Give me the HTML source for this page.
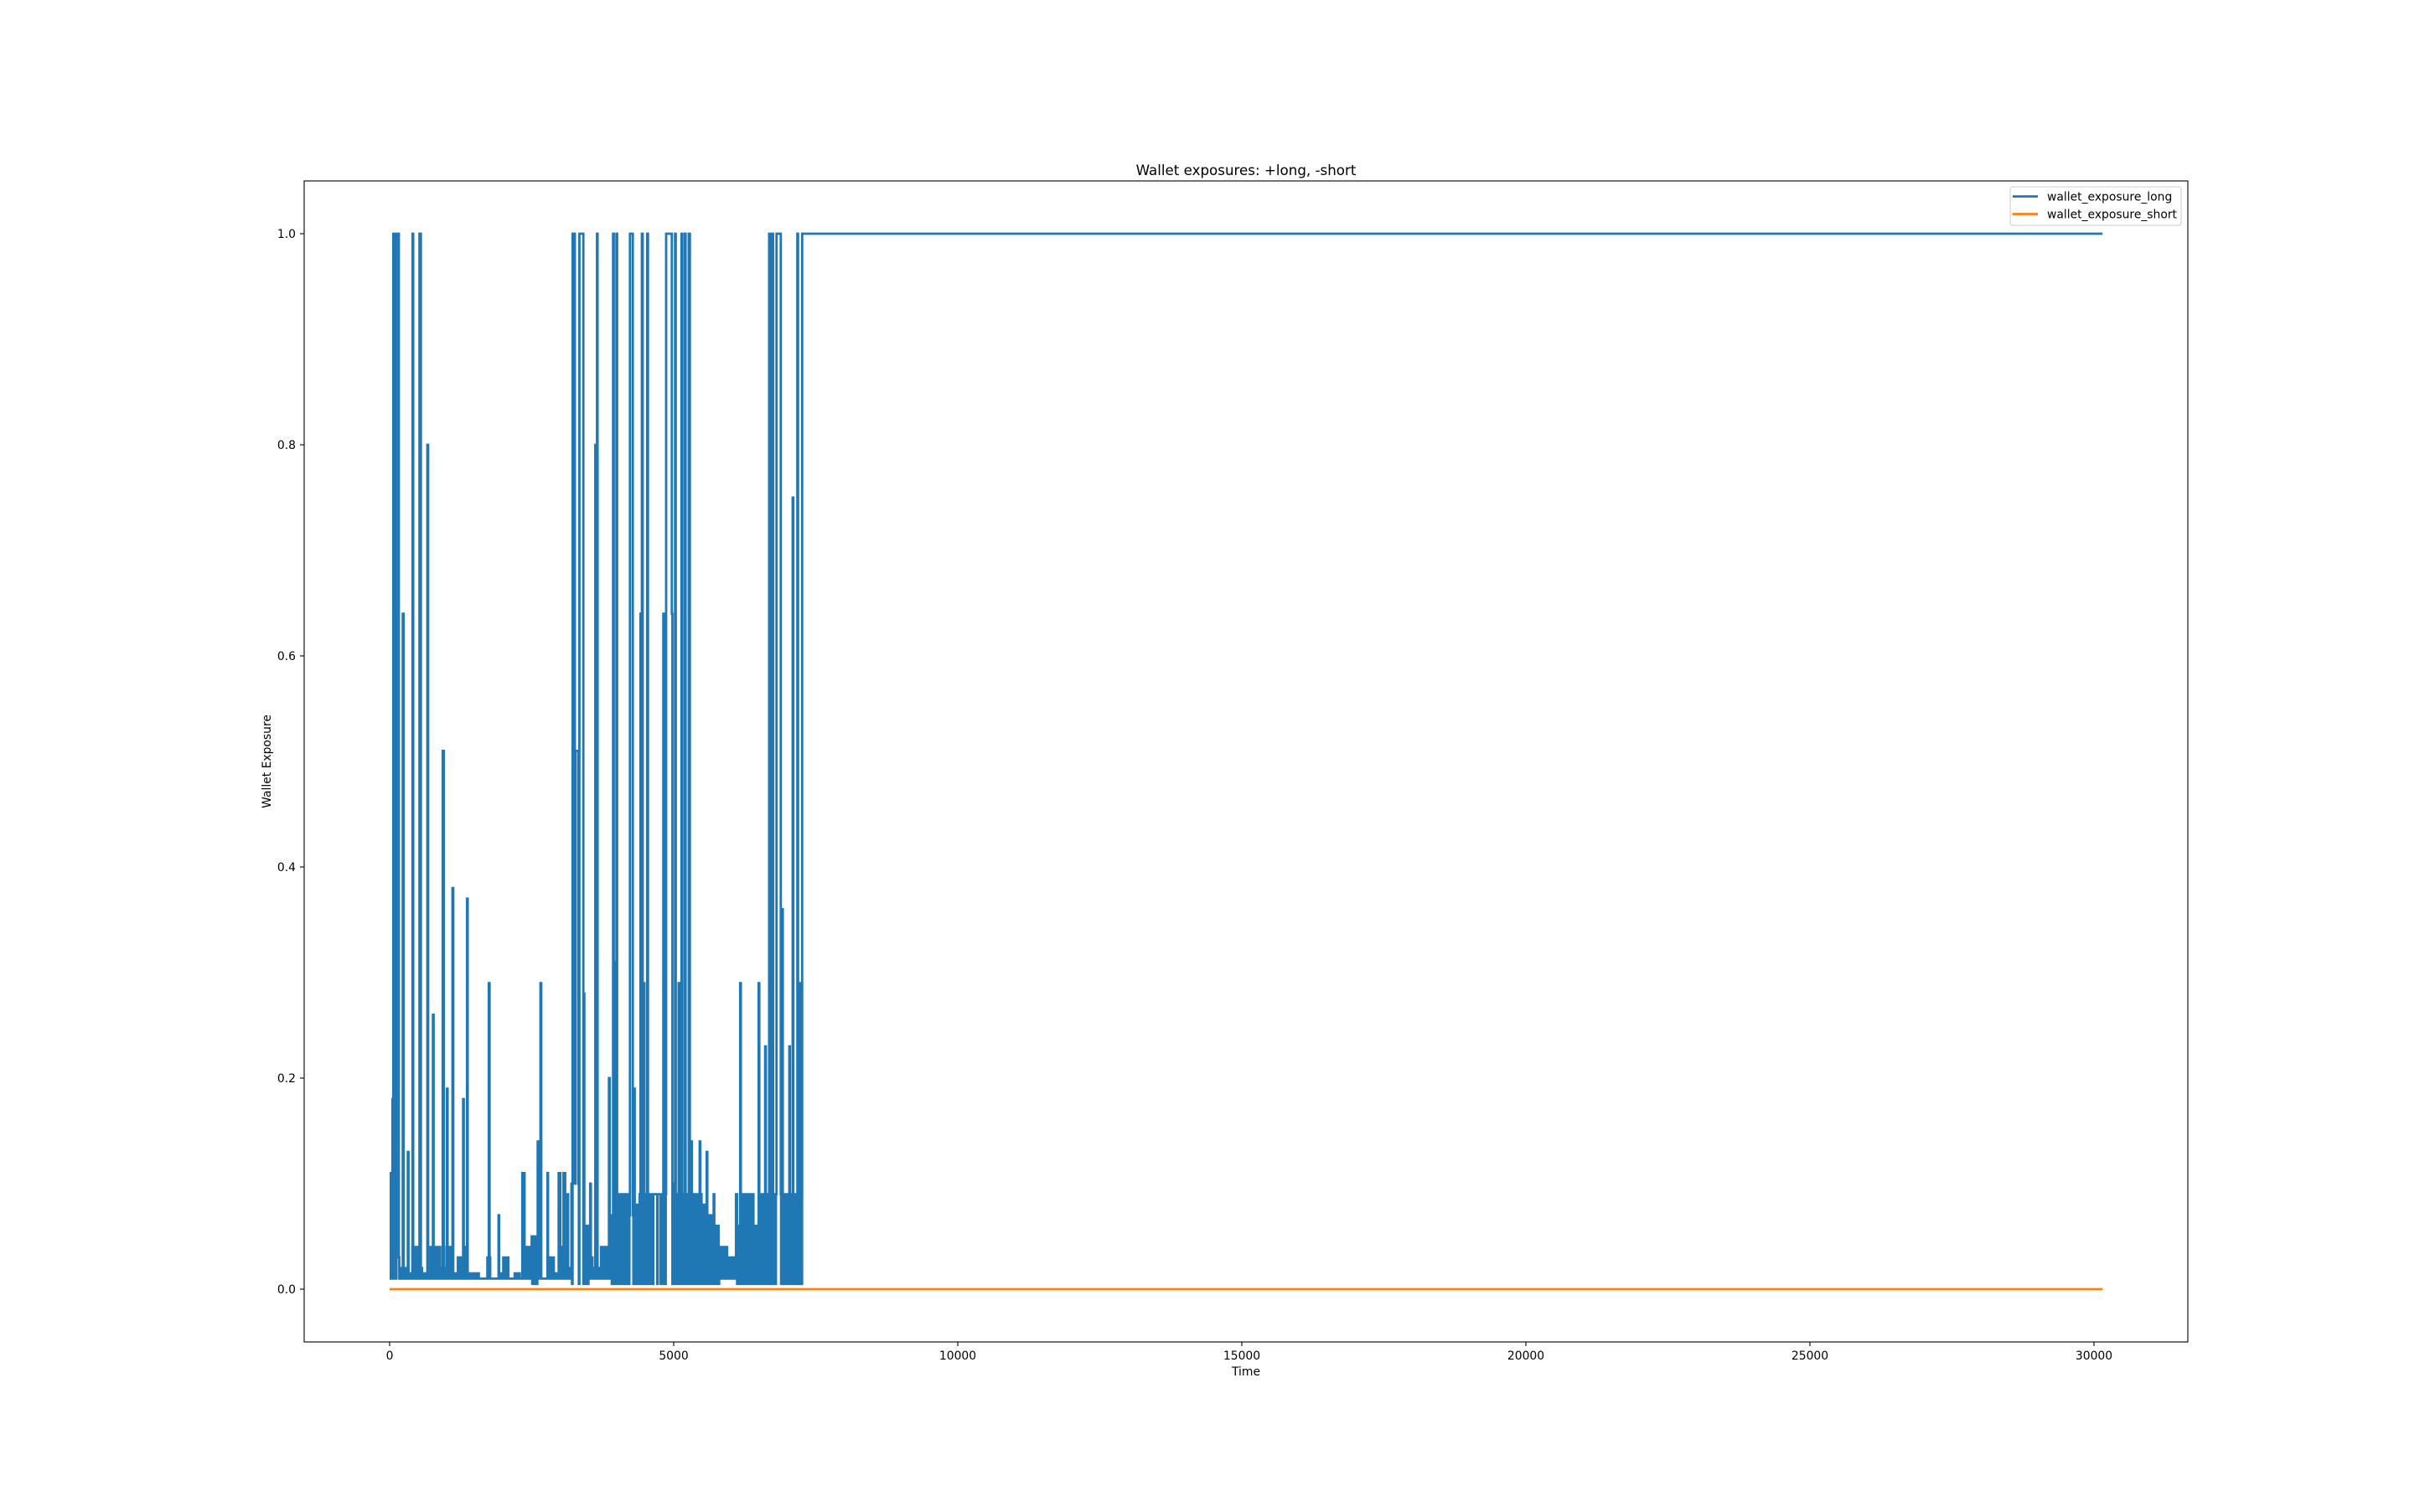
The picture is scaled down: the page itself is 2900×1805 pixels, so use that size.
<!DOCTYPE html>
<html><head><meta charset="utf-8"><style>
html,body{margin:0;padding:0;background:#fff;}
svg text{font-family:"DejaVu Sans","Liberation Sans",sans-serif;fill:#000;}
</style></head><body>
<svg id="chart" width="2900" height="1800" viewBox="0 0 2900 1800" xmlns="http://www.w3.org/2000/svg">
<rect x="0" y="0" width="2900" height="1800" fill="#fff"/>
<text x="1487" y="209" font-size="16.7" text-anchor="middle">Wallet exposures: +long, -short</text>
<text x="0" y="0" font-size="13.9" text-anchor="middle" transform="translate(323,909) rotate(-90)">Wallet Exposure</text>
<text x="1487" y="1642" font-size="13.9" text-anchor="middle">Time</text>
<g id="plot"></g>
<g id="ticks"></g>
<rect x="363" y="216" width="2248" height="1386" fill="none" stroke="#000" stroke-width="1.1"/>
<g>
<rect x="2399" y="223" width="204" height="46" rx="3" fill="#fff" fill-opacity="0.8" stroke="#ccc" stroke-width="1"/>
<line x1="2402" y1="234.5" x2="2432" y2="234.5" stroke="#1f77b4" stroke-width="2.8"/>
<text x="2443" y="239.5" font-size="13.9">wallet_exposure_long</text>
<line x1="2402" y1="255.5" x2="2432" y2="255.5" stroke="#ff7f0e" stroke-width="2.8"/>
<text x="2443" y="260.5" font-size="13.9">wallet_exposure_short</text>
</g>
</svg>
<script>
const xTicks=[0,5000,10000,15000,20000,25000,30000];
const yTicks=[0,0.2,0.4,0.6,0.8,1.0];
const yTickLabels=["0.0","0.2","0.4","0.6","0.8","1.0"];
const spikeTimes=[0,49,64,90,120,231,320,403,525,664,762,934,1008,1106,1293,1362,1745,1917,2335,2606,2655,2778,2975,3060,3130,3220,3270,3340,3417,3530,3620,3650,3860,3933,3960,3992,4080,4230,4302,4415,4440,4474,4533,4650,4720,4818,4867,4965,5024,5087,5137,5196,5265,5310,5457,5580,5703,5920,6096,6170,6392,6495,6610,6680,6735,6810,6908,7006,7035,7094,7177,7212];
const spikeValues=[0.11,0.18,1.0,0.40,1.0,0.64,0.13,1.0,1.0,0.80,0.26,0.51,0.19,0.38,0.18,0.37,0.29,0.07,0.11,0.14,0.29,0.11,0.11,0.11,0.09,1.0,0.51,1.0,0.28,0.10,0.80,1.0,0.20,1.0,0.31,1.0,0.09,1.0,0.19,0.64,1.0,0.29,1.0,0.09,0.09,0.64,1.0,0.64,1.0,0.29,1.0,1.0,1.0,0.14,0.14,0.13,0.09,0.04,0.09,0.29,0.09,0.29,0.23,1.0,1.0,1.0,0.36,0.09,0.23,0.75,1.0,0.29];
const spikeWidths=[20,12,26,8,42,14,12,12,25,14,12,20,12,14,12,12,14,10,40,10,14,10,30,30,12,40,50,70,10,12,8,10,14,12,8,12,12,50,12,12,14,10,14,50,50,12,100,12,12,12,14,14,20,10,12,12,12,20,20,12,12,12,12,14,14,75,12,12,10,12,12,12];
const baseLevels=[0.04,0.03,0.02,0.015,0.04,0.02,0.015,0.04,0.04,0.02,0.04,0.015,0.03,0.04,0.015,0.015,0.01,0.03,0.01,0.015,0.03,0.01,0.015,0.01,0.04,0.05,0.01,0.01,0.03,0.015,0.04,0.02,0.1,0.1,0.06,0.03,0.02,0.04,0.04,0.07,0.09,0.09,0.07,0.08,0.09,0.09,0.09,0.09,0.09,0.1,0.09,0.09,0.09,0.09,0.09,0.08,0.07,0.06,0.04,0.03,0.03,0.06,0.09,0.09,0.06,0.09,0.09,0.09,0.09,0.09,0.09,0.09,0.09];
const baseStep=100;
const flatStart=7261, flatValue=1.0, endTime=30150;
const shortValue=0;

const X0=465, XS=(2499-465)/30000, Y0=1539, YS=1260;
function xs(t){return X0+t*XS;}
function ys(v){return Y0-v*YS;}
const NS="http://www.w3.org/2000/svg";
const plot=document.getElementById('plot');
const ticks=document.getElementById('ticks');

function valueAt(t){
  let v=-1;
  for(let i=0;i<spikeTimes.length;i++){
    if(t>=spikeTimes[i]&&t<spikeTimes[i]+spikeWidths[i]) v=Math.max(v,spikeValues[i]);
  }
  if(v>=0) return v;
  const bi=Math.min(baseLevels.length-1,Math.floor(t/baseStep));
  const lvl=baseLevels[bi];
  if(lvl>=0.05){
    return (Math.floor(t/10)%2===0)?lvl:0.005;
  }
  return (Math.floor(t/10)%4===0)?lvl:0.01;
}
let evs=new Set();
for(let t=0;t<flatStart;t+=10) evs.add(t);
spikeTimes.forEach((s,i)=>{evs.add(s);evs.add(s+spikeWidths[i]);});
let times=[...evs].filter(t=>t<flatStart).sort((a,b)=>a-b);
let d="M"+xs(0).toFixed(2)+" "+ys(valueAt(0)).toFixed(2);
for(let i=1;i<times.length;i++){
  const t=times[i];
  d+="H"+xs(t).toFixed(2)+"V"+ys(valueAt(t)).toFixed(2);
}
d+="H"+xs(flatStart).toFixed(2)+"V"+ys(flatValue).toFixed(2)+"H"+xs(endTime).toFixed(2);
const longPath=document.createElementNS(NS,'path');
longPath.setAttribute('d',d);
longPath.setAttribute('fill','none');
longPath.setAttribute('stroke','#1f77b4');
longPath.setAttribute('stroke-width','2.8');


plot.appendChild(longPath);

const shortLine=document.createElementNS(NS,'line');
shortLine.setAttribute('x1',xs(0));shortLine.setAttribute('x2',xs(endTime));
shortLine.setAttribute('y1',ys(shortValue));shortLine.setAttribute('y2',ys(shortValue));
shortLine.setAttribute('stroke','#ff7f0e');shortLine.setAttribute('stroke-width','2.8');


plot.appendChild(shortLine);

xTicks.forEach(v=>{
  const l=document.createElementNS(NS,'line');
  l.setAttribute('x1',xs(v));l.setAttribute('x2',xs(v));l.setAttribute('y1',1602);l.setAttribute('y2',1607);
  l.setAttribute('stroke','#000');l.setAttribute('stroke-width','1.1');
  
  
  ticks.appendChild(l);
  const tx=document.createElementNS(NS,'text');
  tx.setAttribute('x',xs(v));tx.setAttribute('y',1623);tx.setAttribute('font-size','13.9');tx.setAttribute('text-anchor','middle');
  tx.textContent=String(v);
  
  
  ticks.appendChild(tx);
});
yTicks.forEach((v,i)=>{
  const l=document.createElementNS(NS,'line');
  l.setAttribute('x1',358);l.setAttribute('x2',363);l.setAttribute('y1',ys(v));l.setAttribute('y2',ys(v));
  l.setAttribute('stroke','#000');l.setAttribute('stroke-width','1.1');
  
  
  ticks.appendChild(l);
  const tx=document.createElementNS(NS,'text');
  tx.setAttribute('x',353);tx.setAttribute('y',ys(v)+5);tx.setAttribute('font-size','13.9');tx.setAttribute('text-anchor','end');
  tx.textContent=yTickLabels[i];
  
  
  ticks.appendChild(tx);
});
</script>
</body></html>
